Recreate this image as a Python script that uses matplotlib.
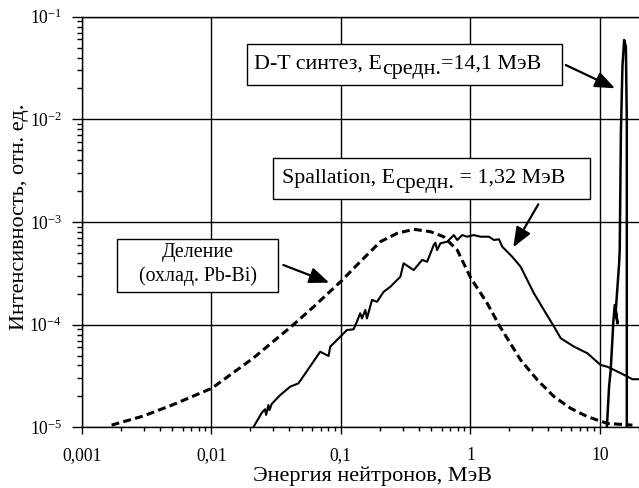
import math
import matplotlib
matplotlib.use("Agg")
import matplotlib.pyplot as plt
from matplotlib.patches import Rectangle
from matplotlib.ticker import FixedLocator, FixedFormatter, LogLocator, NullFormatter, FuncFormatter

plt.rcParams["font.family"] = ["Liberation Serif", "DejaVu Serif"]
plt.rcParams["mathtext.fontset"] = "custom"
plt.rcParams["mathtext.rm"] = "Liberation Serif"
plt.rcParams["mathtext.it"] = "Liberation Serif:italic"
plt.rcParams["mathtext.bf"] = "Liberation Serif:bold"

# Fission spectrum (lead-bismuth cooled), dashed
fission_e = [0.0017, 0.0030, 0.0050, 0.0101, 0.0210, 0.0419, 0.0615, 0.1007, 0.141,
             0.202, 0.272, 0.365, 0.491, 0.622, 0.791, 1.007, 1.35, 1.68, 2.44,
             3.29, 4.42, 5.94, 8.0, 11.4, 17.8]
fission_i = [1.05e-5, 1.29e-5, 1.65e-5, 2.40e-5, 4.70e-5, 9.7e-5, 1.49e-4, 2.66e-4, 4.10e-4,
             6.43e-4, 7.76e-4, 8.49e-4, 8.05e-4, 7.19e-4, 5.33e-4, 2.84e-4, 1.61e-4, 9.7e-5, 4.53e-5,
             2.89e-5, 1.99e-5, 1.53e-5, 1.27e-5, 1.09e-5, 1.05e-5]

# Spallation spectrum
spall_e = [0.0211, 0.0246, 0.0260, 0.0265, 0.0276, 0.0281, 0.0293, 0.0340, 0.0407, 0.0471,
           0.0693, 0.0804, 0.0828, 0.102, 0.1114, 0.1253, 0.133, 0.141, 0.1456, 0.1545,
           0.159, 0.174, 0.190, 0.214, 0.241, 0.288, 0.305, 0.365, 0.424, 0.463,
           0.521, 0.537, 0.553, 0.587, 0.662, 0.702, 0.745, 0.791, 0.865, 0.944,
           1.06, 1.20, 1.39, 1.52, 1.66, 1.76, 1.87, 2.10, 2.44, 3.09,
           3.69, 4.42, 4.98, 6.31, 8.0, 10.1, 11.4, 14.5, 17.8, 20.0]
spall_i = [1.0e-5, 1.39e-5, 1.50e-5, 1.32e-5, 1.65e-5, 1.47e-5, 1.69e-5, 2.06e-5, 2.49e-5, 2.68e-5,
           5.45e-5, 4.95e-5, 6.1e-5, 7.92e-5, 8.87e-5, 9.0e-5, 1.07e-4, 1.29e-4, 1.15e-4, 1.39e-4,
           1.15e-4, 1.74e-4, 1.67e-4, 2.09e-4, 2.34e-4, 2.93e-4, 3.96e-4, 3.40e-4, 4.27e-4, 4.10e-4,
           5.97e-4, 6.28e-4, 5.33e-4, 6.20e-4, 6.43e-4, 6.93e-4, 7.46e-4, 6.68e-4, 7.46e-4, 7.19e-4,
           7.46e-4, 7.19e-4, 7.19e-4, 6.68e-4, 6.79e-4, 5.74e-4, 5.33e-4, 4.59e-4, 3.67e-4, 2.02e-4,
           1.39e-4, 9.55e-5, 7.36e-5, 6.10e-5, 5.26e-5, 4.05e-5, 3.89e-5, 3.36e-5, 2.94e-5, 2.94e-5]

# D-T fusion line
dt_e = [11.3, 11.75, 12.1, 12.7, 13.0, 13.65, 13.25, 14.05, 14.2, 14.5, 14.9, 15.36, 15.84, 16.1, 16.1]
dt_i = [1.0e-5, 2.49e-5, 3.62e-5, 1.11e-4, 1.55e-4, 1.03e-4, 1.39e-4, 3.96e-4, 5.33e-4, 7.4e-3,
        0.0326, 0.0593, 0.051, 9.9e-3, 1.0e-5]

x_ticks = [0.001, 0.01, 0.1, 1, 10]
x_tick_labels = ["0,001", "0,01", "0,1", "1", "10"]

W, H = 639, 488
fig = plt.figure(figsize=(W / 100, H / 100), dpi=100)
L, R, T, B = 81.7, 639.0, 16.7, 427.3
ax = fig.add_axes([L / W, 1 - B / H, (R - L) / W, (B - T) / H])


def af(px, py):
    return ((px - L) / (R - L), (B - py) / (B - T))


ax.set_xscale("log")
ax.set_yscale("log")
ax.set_xlim(1e-3, 20)
ax.set_ylim(1e-5, 1e-1)

ax.xaxis.set_major_locator(FixedLocator(x_ticks))
ax.xaxis.set_major_formatter(FixedFormatter(x_tick_labels))
ax.xaxis.set_minor_locator(LogLocator(base=10, subs=range(2, 10)))
ax.xaxis.set_minor_formatter(NullFormatter())
ax.yaxis.set_major_locator(LogLocator(base=10, numticks=10))
ax.yaxis.set_major_formatter(FuncFormatter(lambda v, p: r"$10^{%d}$" % round(math.log10(v))))
ax.yaxis.set_minor_locator(LogLocator(base=10, subs=range(2, 10), numticks=20))
ax.yaxis.set_minor_formatter(NullFormatter())

ax.tick_params(axis="x", which="major", direction="out", length=5, width=1.0, labelsize=12.7, pad=9.5)
ax.tick_params(axis="x", which="minor", direction="out", length=3, width=1.0)
ax.tick_params(axis="y", which="major", direction="out", length=7, width=1.0, labelsize=12.7, pad=7)
ax.tick_params(axis="y", which="minor", direction="out", length=3.6, width=1.0)

ax.grid(True, which="major", color="black", lw=1.0)
ax.set_axisbelow(True)
for s in ("left", "bottom", "top"):
    ax.spines[s].set_linewidth(1.0)
ax.spines["right"].set_visible(False)

ax.plot(fission_e, fission_i, color="black", lw=2.2, linestyle=(0, (2.6, 1.4)), zorder=3)
ax.plot(spall_e, spall_i, color="black", lw=1.5, zorder=3)
ax.plot(dt_e, dt_i, color="black", lw=1.8, zorder=3)

ax.set_xlabel("Энергия нейтронов, МэВ", fontsize=16)
ax.xaxis.set_label_coords(0.521, -0.095)
ax.set_ylabel("Интенсивность, отн. ед.", fontsize=16)
ax.yaxis.set_label_coords(-0.0946, 0.513)


def frame(px0, py0, px1, py1):
    x0, y0 = af(px0, py1)
    x1, y1 = af(px1, py0)
    ax.add_patch(Rectangle((x0, y0), x1 - x0, y1 - y0, transform=ax.transAxes,
                           facecolor="white", edgecolor="black", lw=1.0, zorder=5))


def run_text(px, py, parts, size):
    """Write text pieces one after another; each piece carries its own baseline shift."""
    first, _ = parts[0]
    prev = ax.text(*af(px, py), first, transform=ax.transAxes, ha="left",
                   va="baseline", fontsize=size, zorder=6)
    prev_shift = 0.0
    for txt, shift in parts[1:]:
        prev = ax.annotate(txt, xy=(1, 0), xycoords=prev,
                           xytext=(0, shift - prev_shift), textcoords="offset points",
                           ha="left", va="bottom", fontsize=size, zorder=6)
        prev_shift = shift


sub = -3.6
frame(247.3, 44.3, 562.3, 85.0)
run_text(254.0, 69.0, [("D-T синтез, E", 0.0), ("средн.", sub), ("=14,1 МэВ", 0.0)], 15.8)

frame(273.3, 157.7, 590.0, 199.0)
run_text(281.7, 182.7, [("Spallation, E", 0.0), ("средн.", sub), (" = 1,32 МэВ", 0.0)], 15.8)

frame(117.3, 239.0, 278.3, 292.3)
ax.text(*af(198.0, 257.5), "Деление", transform=ax.transAxes, ha="center",
        va="baseline", fontsize=14.3, zorder=6)
ax.text(*af(198.0, 281.5), "(охлад. Pb-Bi)", transform=ax.transAxes, ha="center",
        va="baseline", fontsize=14.3, zorder=6)


def arrow(p0, p1):
    ax.annotate("", xy=af(*p1), xytext=af(*p0), xycoords="axes fraction",
                textcoords="axes fraction",
                arrowprops=dict(arrowstyle="-|>,head_length=1.0,head_width=0.4",
                                mutation_scale=12, lw=1.6, color="black",
                                shrinkA=0, shrinkB=0),
                zorder=6)


arrow((565.7, 65.0), (615.0, 88.3))
arrow((538.3, 204.3), (513.3, 247.3))
arrow((283.3, 265.0), (329.3, 282.7))

fig.savefig("out.png", dpi=100)
